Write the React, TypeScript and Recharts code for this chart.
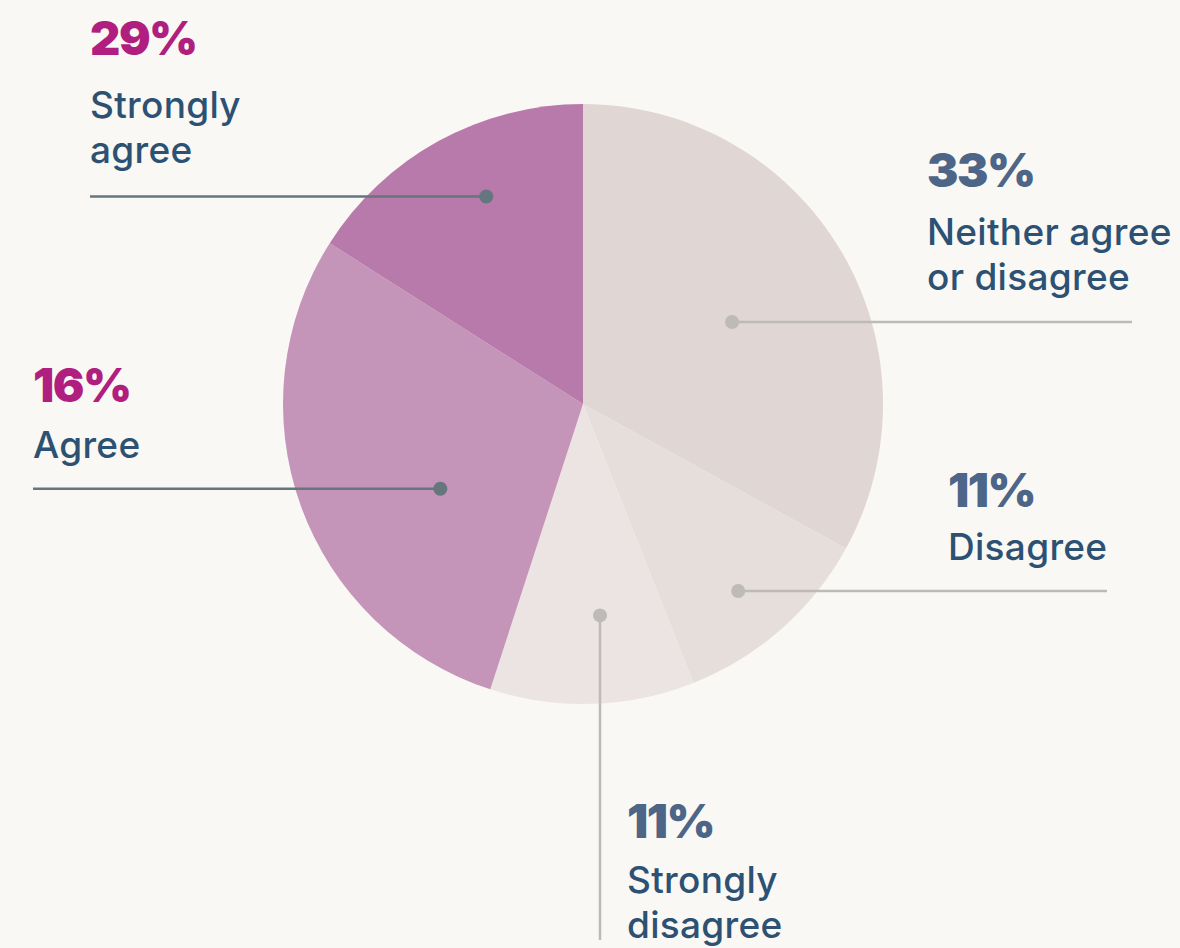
import React from 'react';
import { PieChart, Pie, Cell } from 'recharts';

const categories = ['Neither agree or disagree', 'Disagree', 'Strongly disagree', 'Agree', 'Strongly agree'];
const values = [33, 11, 11, 29, 16];
const percentLabels = ['33%', '11%', '11%', '16%', '29%'];
const labelLines = [['Neither agree', 'or disagree'], ['Disagree'], ['Strongly', 'disagree'], ['Agree'], ['Strongly', 'agree']];

const colors = ['#e0d6d3', '#e6dedb', '#ece4e3', '#c494b9', '#b87aaa'];
const pctColors = ['#4d6587', '#4d6587', '#4d6587', '#b01f7f', '#b01f7f'];
const lineColors = ['#bdbab7', '#bdbab7', '#bdbab7', '#66767f', '#66767f'];

// layout per label
const layout = [
  { rf: 0.567, da: -1.8, kind: 'h', end: 1132, tx: 927, pctY: 187, lineYs: [245, 290] },
  { rf: 0.81, da: -1.7, kind: 'h', end: 1107, tx: 948, pctY: 507, lineYs: [560] },
  { rf: 0.707, da: 2.8, kind: 'v', end: 940, tx: 627, pctY: 838, lineYs: [893, 938] },
  { rf: 0.553, da: 10.9, kind: 'h', end: 33, tx: 33, pctY: 402, lineYs: [458] },
  { rf: 0.763, da: -3.8, kind: 'h', end: 90, tx: 90, pctY: 55, lineYs: [118, 163] },
];

const data = categories.map((name, i) => ({ name, value: values[i] }));

const RAD = Math.PI / 180;

const renderLabel = (props: any) => {
  const { cx, cy, midAngle, outerRadius, index } = props;
  const L = layout[index];
  const a = (midAngle + L.da) * RAD;
  const r = outerRadius * L.rf;
  const x = cx + r * Math.cos(a);
  const y = cy - r * Math.sin(a);
  const line =
    L.kind === 'h' ? (
      <line x1={x} y1={y} x2={L.end} y2={y} stroke={lineColors[index]} strokeWidth={2.5} />
    ) : (
      <line x1={x} y1={y} x2={x} y2={L.end} stroke={lineColors[index]} strokeWidth={2.5} />
    );
  return (
    <g key={`lbl-${index}`}>
      {line}
      <circle cx={x} cy={y} r={7} fill={lineColors[index]} />
      <text x={L.tx} y={L.pctY} fill={pctColors[index]} fontSize={47} fontWeight={900} letterSpacing={-1.5} fontFamily="Inter, 'Noto Sans', sans-serif">
        {percentLabels[index]}
      </text>
      {labelLines[index].map((t, j) => (
        <text key={j} x={L.tx} y={L.lineYs[j]} fill="#2c5173" fontSize={37} fontWeight={500} letterSpacing={0.3} fontFamily="Inter, 'Noto Sans', sans-serif">
          {t}
        </text>
      ))}
    </g>
  );
};

export default function App() {
  return (
    <div style={{ position: 'fixed', left: 0, top: 0, width: 1180, height: 948, background: '#f9f8f4' }}>
      <PieChart width={1180} height={948} margin={{ top: 0, right: 0, bottom: 0, left: 0 }}>
        <Pie
          data={data}
          dataKey="value"
          nameKey="name"
          cx={583}
          cy={404}
          outerRadius={300}
          startAngle={90}
          endAngle={-270}
          stroke="none"
          label={renderLabel}
          labelLine={false}
          isAnimationActive={false}
        >
          {data.map((d, i) => (
            <Cell key={d.name} fill={colors[i]} />
          ))}
        </Pie>
      </PieChart>
    </div>
  );
}
